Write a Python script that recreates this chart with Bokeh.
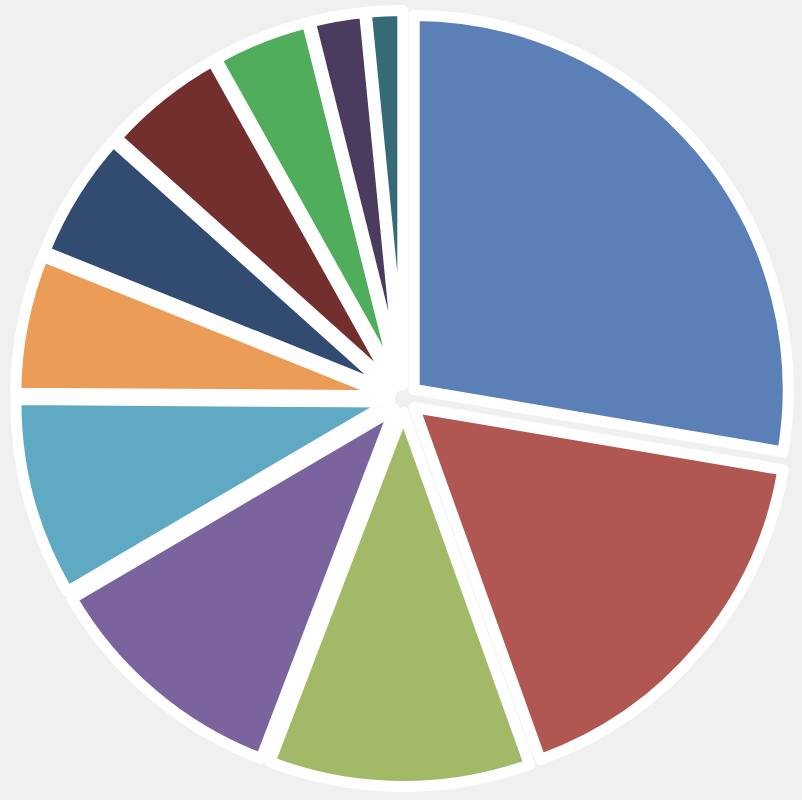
import math
from bokeh.plotting import figure
from bokeh.models import ColumnDataSource, Range1d
from bokeh.embed import file_html
from bokeh.resources import INLINE

# ---- data ----
categories = ["A", "B", "C", "D", "E", "F", "G", "H", "I", "J", "K"]
values = [27.67, 16.86, 11.28, 10.75, 8.56, 5.97, 5.56, 5.26, 4.19, 2.35, 1.56]
colors = ["#5b80b8", "#b05752", "#a2b967", "#7b649e", "#60a9c3", "#eb9c56",
          "#324c71", "#722f2e", "#4fad5b", "#4a3b5f", "#366a77"]

# ---- layout ----
W, H = 802, 800
CX, CY = 403, 402
R = 374
EXPLODE = 14

total = sum(values)
starts, ends, xs, ys = [], [], [], []
acc = 0.0
for v in values:
    a0 = acc / total * 2 * math.pi
    acc += v
    a1 = acc / total * 2 * math.pi
    mid = (a0 + a1) / 2
    # clockwise from 12 o'clock -> bokeh angles (ccw from +x)
    starts.append(math.pi / 2 - a0)
    ends.append(math.pi / 2 - a1)
    xs.append(CX + EXPLODE * math.sin(mid))
    ys.append(CY + EXPLODE * math.cos(mid))

src = ColumnDataSource(dict(x=xs, y=ys, start=starts, end=ends,
                            color=colors, cat=categories, val=values))

p = figure(width=W, height=H, output_backend="svg", toolbar_location=None,
           x_range=Range1d(0, W), y_range=Range1d(0, H), min_border=0)
p.axis.visible = False
p.grid.visible = False
p.outline_line_color = None
p.background_fill_color = "#f0f0f0"
p.border_fill_color = "#f0f0f0"

p.wedge(x="x", y="y", radius=R, start_angle="start", end_angle="end",
        direction="clock", fill_color="color", line_color="white",
        line_width=11, line_join="round", source=src)

html = file_html(p, INLINE)
html = html.replace("<head>", "<head><style>html,body{background:#f0f0f0;margin:0;padding:0;overflow:hidden;}</style>", 1)
open("out.html", "w").write(html)
